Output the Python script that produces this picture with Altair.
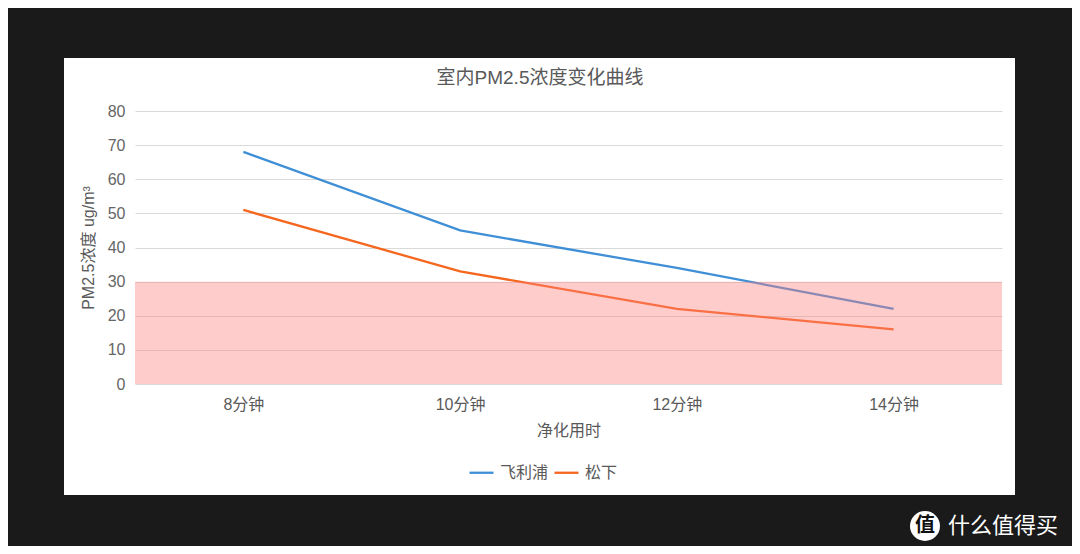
import altair as alt
import pandas as pd

categories = ["8分钟", "10分钟", "12分钟", "14分钟"]
philips = [68, 45, 34, 22]
panasonic = [51, 33, 22, 16]
series_names = ["飞利浦", "松下"]
series_colors = ["#3f8fd6", "#f5661e"]
band_low, band_high = 0, 30
y_ticks = [0, 10, 20, 30, 40, 50, 60, 70, 80]

W, H = 867, 273
FONT = "'Liberation Sans', 'Noto Sans CJK SC', sans-serif"
CJK = "'Noto Sans CJK SC', sans-serif"
GREY = "#595959"
DARK = "#1a1a1a"

rows = []
for c, v in zip(categories, philips):
    rows.append({"time": c, "value": v, "series": series_names[0]})
for c, v in zip(categories, panasonic):
    rows.append({"time": c, "value": v, "series": series_names[1]})
df = pd.DataFrame(rows)

one = pd.DataFrame({"a": [0]})


def frame(x0, x1, y0, y1):
    return alt.Chart(one).mark_rect(color=DARK).encode(
        x=alt.value(x0), x2=alt.value(x1), y=alt.value(y0), y2=alt.value(y1)
    )


frames = [
    frame(-127, 937, -103, -53),
    frame(-127, 937, 384, 435),
    frame(-127, -71, -53, 384),
    frame(880, 937, -53, 384),
]

title = alt.Chart(one).mark_text(
    text="室内PM2.5浓度变化曲线", font=FONT, fontSize=19, color=GREY
).encode(x=alt.value(405), y=alt.value(-33))

y_axis = alt.Axis(title="PM2.5浓度 ug/m³", values=y_ticks, tickCount=20,
                  ticks=False, domain=False, labelPadding=10, titlePadding=11,
                  labelOverlap=False,
                  labelFontSize=16, titleFontSize=16, labelColor="#666666",
                  titleColor=GREY, titleFontWeight="normal",
                  gridColor="#d9d9d9", labelFont=FONT, titleFont=FONT)
y_scale = alt.Scale(domain=[0, 80])

lines = alt.Chart(df).mark_line(strokeWidth=2.3).encode(
    x=alt.X("time:N", sort=categories, scale=alt.Scale(type="point", padding=0.5),
            axis=alt.Axis(title="净化用时", labelAngle=0, ticks=False, domain=False,
                          labelPadding=12, titlePadding=10, labelFontSize=16,
                          titleFontSize=16, labelColor=GREY, titleColor=GREY,
                          titleFontWeight="normal", labelFont=FONT, titleFont=FONT)),
    y=alt.Y("value:Q", scale=y_scale, axis=y_axis),
    color=alt.Color("series:N", sort=series_names,
                    scale=alt.Scale(domain=series_names, range=series_colors),
                    legend=alt.Legend(title=None, orient="none", direction="horizontal",
                                      legendX=333, legendY=348, symbolType="stroke",
                                      symbolStrokeWidth=2.3, symbolSize=576,
                                      labelFontSize=16, labelColor=GREY, labelOffset=5,
                                      labelFont=FONT, columnPadding=0)),
)

band_df = pd.DataFrame({"lo": [band_low], "hi": [band_high]})
band = alt.Chart(band_df).mark_rect(color="#ff8080", opacity=0.4).encode(
    y=alt.Y("hi:Q", scale=y_scale, axis=y_axis),
    y2="lo:Q",
    x=alt.value(0), x2=alt.value(W),
)

logo = alt.Chart(one).mark_point(filled=True, shape="circle", size=900, color="white",
                                 opacity=1).encode(x=alt.value(925 - 135), y=alt.value(526 - 111))
logo_txt = alt.Chart(one).mark_text(text="值", font=CJK, fontSize=20, fontWeight="bold",
                                    color="#111111").encode(x=alt.value(925 - 135), y=alt.value(526 - 111))
brand = alt.Chart(one).mark_text(text="什么值得买", font=CJK, fontSize=22, color="white",
                                 align="left").encode(x=alt.value(948 - 135), y=alt.value(526 - 111))

chart = alt.layer(*frames, title, lines, band, logo, logo_txt, brand).properties(
    width=W, height=H,
    autosize=alt.AutoSizeParams(type="none"),
    padding={"left": 127, "top": 103, "right": 70, "bottom": 162},
    background="white",
).configure_view(stroke=None)

chart.save("out.html", embed_options={"renderer": "svg", "actions": False})
